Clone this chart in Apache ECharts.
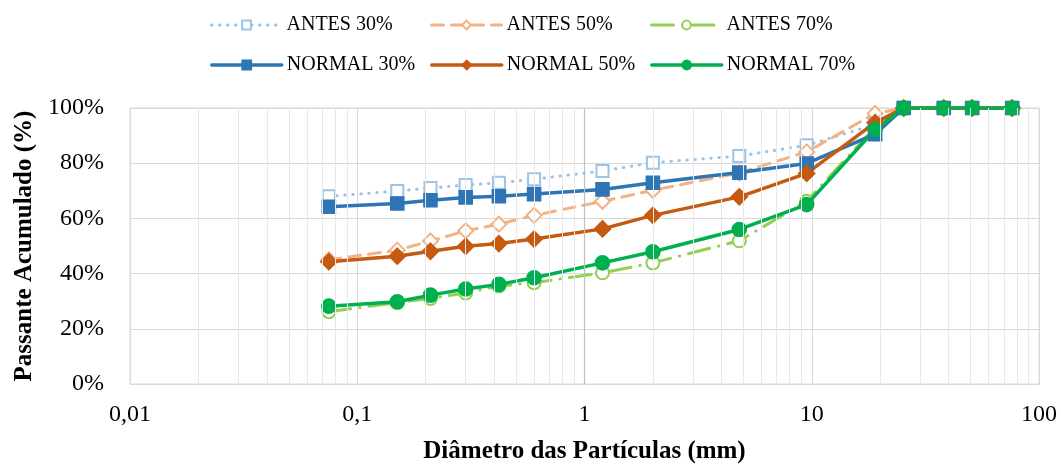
<!DOCTYPE html>
<html>
<head>
<meta charset="utf-8">
<script src="https://cdn.jsdelivr.net/npm/echarts@6/dist/echarts.min.js"></script>
<style>
html,body{margin:0;padding:0;background:#fff;}
#chart{width:1061px;height:465px;}
</style>
</head>
<body>
<div id="chart"></div>
<script>
// Sieve opening (mm)
const diameters = [0.075, 0.15, 0.21, 0.3, 0.42, 0.6, 1.2, 2.0, 4.8, 9.5, 19, 25.4, 38.1, 50.8, 76.2];
const antes30  = [68.0, 69.9, 71.0, 72.1, 72.9, 74.2, 77.2, 80.2, 82.6, 86.5, 94.0, 100, 100, 100, 100];
const antes50  = [45.0, 48.5, 51.8, 55.5, 57.9, 61.1, 66.2, 70.2, 76.5, 84.1, 98.0, 100, 100, 100, 100];
const antes70  = [26.2, 29.5, 31.0, 33.0, 35.5, 36.7, 40.3, 43.9, 51.9, 66.2, 93.0, 100, 100, 100, 100];
const normal30 = [64.2, 65.4, 66.6, 67.6, 68.0, 68.8, 70.5, 72.9, 76.6, 79.9, 90.5, 100, 100, 100, 100];
const normal50 = [44.3, 46.3, 48.1, 49.9, 50.9, 52.5, 56.2, 61.1, 67.8, 76.3, 94.7, 100, 100, 100, 100];
const normal70 = [28.2, 29.8, 32.2, 34.4, 36.1, 38.5, 43.9, 47.9, 56.0, 65.0, 92.2, 100, 100, 100, 100];
const seriesNames = ['ANTES 30%', 'ANTES 50%', 'ANTES 70%', 'NORMAL 30%', 'NORMAL 50%', 'NORMAL 70%'];
const xTicks = [0.01, 0.1, 1, 10, 100];
const yTicks = [0, 20, 40, 60, 80, 100];

const FONT = 'Liberation Serif';
const pair = (ys) => diameters.map((d, i) => [d, ys[i]]);

// minor log gridlines (2..9 in each decade)
const minorLines = [];
for (let k = 0; k < xTicks.length - 1; k++) {
  for (let m = 2; m <= 9; m++) minorLines.push({ xAxis: +(xTicks[k] * m).toPrecision(6) });
}

function lineSeries(name, ys, color, lineType, width, symbol, size, extra) {
  return Object.assign({
    name: name,
    type: 'line',
    data: pair(ys),
    symbol: symbol,
    symbolSize: size,
    showSymbol: true,
    animation: false,
    lineStyle: { color: color, width: width, type: lineType, cap: 'round' },
    itemStyle: { color: color, borderColor: color, borderWidth: 1.6 },
    z: 3
  }, extra || {});
}

const series = [
  {
    name: 'grid-helper',
    type: 'line',
    data: [],
    silent: true,
    z: 1,
    animation: false,
    markLine: {
      silent: true,
      symbol: ['none', 'none'],
      label: { show: false },
      animation: false,
      lineStyle: { color: '#e8e8e8', width: 1, type: 'solid' },
      data: minorLines.concat([{ xAxis: 1, lineStyle: { color: '#bfbfbf', width: 1.2, type: 'solid' } }])
    }
  },
  lineSeries(seriesNames[0], antes30, '#9dc3e6', [0.5, 7.5], 3, 'emptyRect', 12),
  lineSeries(seriesNames[1], antes50, '#f4b183', [12, 8], 3, 'emptyDiamond', 15),
  lineSeries(seriesNames[2], antes70, '#92d050', [22, 9, 0.5, 9], 3, 'emptyCircle', 13),
  lineSeries(seriesNames[3], normal30, '#2e75b6', 'solid', 3.5, 'rect', 13, { z: 4 }),
  lineSeries(seriesNames[4], normal50, '#c55a11', 'solid', 3.5, 'diamond', 16, { z: 4 }),
  lineSeries(seriesNames[5], normal70, '#00b050', 'solid', 3.5, 'circle', 14, { z: 4 })
];

const legendPos = [
  { left: 205, top: 10 }, { left: 425, top: 10 }, { left: 645, top: 10 },
  { left: 205, top: 50 }, { left: 425, top: 50 }, { left: 645, top: 50 }
];
const legends = seriesNames.map((n, i) => ({
  data: [n],
  left: legendPos[i].left,
  top: legendPos[i].top,
  itemWidth: 70,
  itemHeight: 11,
  selectedMode: false,
  lineStyle: { width: 'inherit' },
  textStyle: { fontFamily: FONT, fontSize: 20, color: '#000' }
}));

const chart = echarts.init(document.getElementById('chart'), null, { renderer: 'canvas' });
chart.setOption({
  backgroundColor: '#fff',
  animation: false,
  legend: legends,
  grid: {
    left: 130, right: 22, top: 108, bottom: 81,
    containLabel: false, outerBoundsMode: 'none',
    show: true, borderColor: '#d9d9d9', borderWidth: 1
  },
  xAxis: {
    type: 'log',
    logBase: 10,
    min: xTicks[0],
    max: xTicks[xTicks.length - 1],
    name: 'Diâmetro das Partículas (mm)',
    nameLocation: 'middle',
    nameGap: 55,
    nameTextStyle: { fontFamily: FONT, fontSize: 25, fontWeight: 'bold', color: '#000' },
    axisLine: { show: true, lineStyle: { color: '#d9d9d9', width: 1 } },
    axisTick: { show: false },
    axisLabel: {
      margin: 19,
      fontFamily: FONT, fontSize: 24, color: '#000',
      formatter: (v) => String(+(+v).toPrecision(6)).replace('.', ',')
    },
    splitLine: { show: true, lineStyle: { color: '#d9d9d9', width: 1 } }
  },
  yAxis: {
    type: 'value',
    min: yTicks[0],
    max: yTicks[yTicks.length - 1],
    interval: 20,
    name: 'Passante Acumulado (%)',
    nameLocation: 'middle',
    nameRotate: 90,
    nameGap: 93,
    nameTextStyle: { fontFamily: FONT, fontSize: 25, fontWeight: 'bold', color: '#000' },
    axisLine: { show: false },
    axisTick: { show: false },
    axisLabel: { margin: 26, fontFamily: FONT, fontSize: 24, color: '#000', formatter: '{value}%' },
    splitLine: { show: true, lineStyle: { color: '#d9d9d9', width: 1 } }
  },
  series: series
});
</script>
</body>
</html>
